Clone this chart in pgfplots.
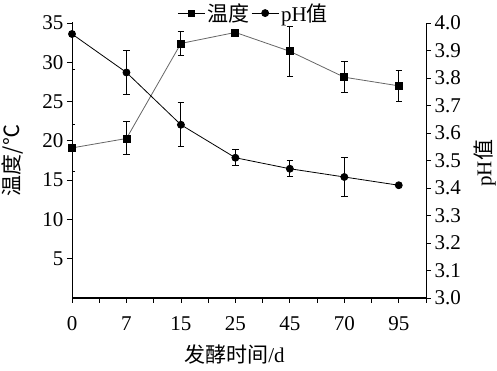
\documentclass[border=0pt]{standalone}
\usepackage{pgfplots}
\pgfplotsset{compat=1.18}
\usepackage{fontspec}
\setmainfont{Liberation Serif}
\newfontfamily\cjk{Noto Sans CJK SC}
\newcommand\myfont{\fontsize{21}{25}\selectfont}
\pgfplotstableread{
x y e
0 19.1 3.0
1 20.3 2.1
2 32.4 1.5
3 33.8 0.2
4 31.4 3.2
5 28.1 2.0
6 27.0 2.0
}\temptable
\pgfplotstableread{
x y e
0 3.96 0.13
1 3.82 0.08
2 3.63 0.08
3 3.51 0.03
4 3.47 0.03
5 3.44 0.07
6 3.41 0.0
}\phtable
\begin{document}
\begin{tikzpicture}
\path[use as bounding box] (0,0) rectangle (497pt,371pt);
\pgfplotsset{
  every axis/.append style={
    scale only axis, width=354pt, height=275pt, at={(72pt,73pt)}, anchor=south west,
    xmin=0, xmax=6.5, tick align=outside, major tick length=5pt, minor tick length=5pt,
    /pgf/number format/assume math mode=true,
    tick label style={font=\myfont}, tick style={black, line width=0.8pt},
  },
  legend image code/.code={\draw[#1, black, mark repeat=2, mark phase=2] plot coordinates {(0pt,0pt) (13.5pt,0pt) (27pt,0pt)};},
}
\begin{axis}[
  axis x line*=bottom, axis y line*=left,
  ymin=0, ymax=35, ytick={5,10,...,35},
  xtick={0,...,6}, xticklabels={0,7,15,25,45,70,95},
  minor xtick={0.5,1.5,...,6.5},
  x axis line style={-, line width=1.6pt},
  y axis line style={-, line width=0.8pt},
  xticklabel style={yshift=-10pt},
  xlabel={{\cjk 发酵时间}/d}, ylabel={{\cjk 温度/℃}},
  every axis x label/.style={at={(axis description cs:0.459,-0.204)}, anchor=center, font=\myfont},
  every axis y label/.style={at={(axis description cs:-0.167,0.5)}, anchor=center, rotate=90, font=\myfont},
]
\addplot[black!60, line width=0.8pt, mark=square*, mark size=3.5pt, mark options={black, solid},
  error bars/.cd, y dir=both, y explicit, error bar style={black, line width=1pt},
  error mark options={rotate=90, black, mark size=3.2pt, line width=1pt}]
  table[x=x, y=y, y error=e] {\temptable};
\end{axis}
\begin{axis}[
  axis x line=none, axis y line*=right,
  ymin=3, ymax=4, ytick={3.0,3.1,3.2,3.3,3.4,3.5,3.6,3.7,3.8,3.9,4.0},
  yticklabel style={/pgf/number format/.cd, fixed, fixed zerofill, precision=1},
  y axis line style={-, line width=0.8pt},
  ylabel={pH{\cjk 值}},
  every axis y label/.style={at={(axis description cs:1.166,0.49)}, anchor=center, rotate=90, font=\myfont},
  legend style={draw=none, fill=none, legend columns=2, at={(axis description cs:0.513,1.036)}, anchor=center, font=\myfont,
    /tikz/every even column/.append style={column sep=0pt}},
  legend cell align=left,
]
\addlegendimage{black, line width=0.8pt, mark=square*, mark size=3pt}
\addlegendentry{{\cjk 温度}}
\addplot[black, line width=0.8pt, mark=*, mark size=3.5pt, mark options={black, solid},
  error bars/.cd, y dir=both, y explicit, error bar style={black, line width=1pt},
  error mark options={rotate=90, black, mark size=3.2pt, line width=1pt}]
  table[x=x, y=y, y error=e] {\phtable};
\addlegendentry{pH{\cjk 值}}
\end{axis}
\end{tikzpicture}
\end{document}
